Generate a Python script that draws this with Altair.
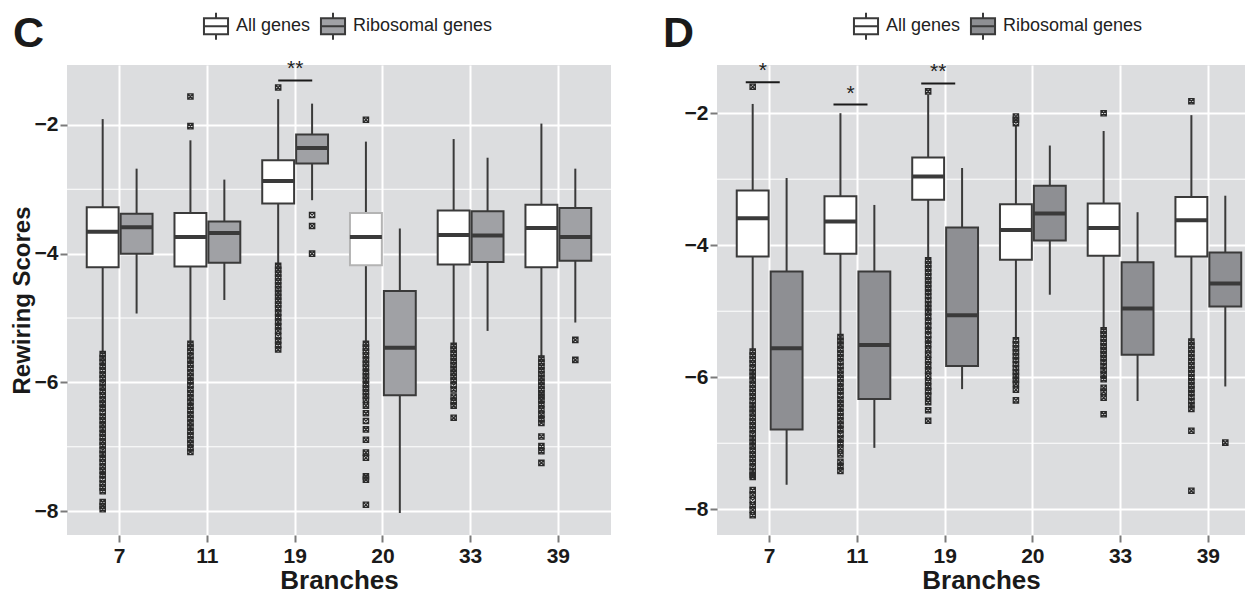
import altair as alt
import pandas as pd

branches = ["7", "11", "19", "20", "33", "39"]
groups = ["All genes", "Ribosomal genes"]

# ---- Panel C box statistics (lower whisker, Q1, median, Q3, upper whisker)
c_all_lo = [-5.55, -5.39, -4.18, -5.39, -5.42, -5.62]
c_all_q1 = [-4.21, -4.20, -3.22, -4.18, -4.17, -4.21]
c_all_med = [-3.66, -3.74, -2.87, -3.74, -3.71, -3.60]
c_all_q3 = [-3.28, -3.37, -2.55, -3.37, -3.33, -3.24]
c_all_hi = [-1.91, -2.24, -1.60, -2.26, -2.22, -1.98]

c_rib_lo = [-4.93, -4.72, -3.17, -8.03, -5.20, -5.07]
c_rib_q1 = [-4.00, -4.14, -2.60, -6.20, -4.13, -4.11]
c_rib_med = [-3.59, -3.68, -2.36, -5.46, -3.72, -3.74]
c_rib_q3 = [-3.38, -3.50, -2.15, -4.58, -3.34, -3.29]
c_rib_hi = [-2.68, -2.85, -1.67, -3.61, -2.51, -2.68]

# ---- Panel D box statistics
d_all_lo = [-5.60, -5.38, -4.22, -5.43, -5.28, -5.45]
d_all_q1 = [-4.17, -4.13, -3.31, -4.22, -4.16, -4.17]
d_all_med = [-3.59, -3.64, -2.96, -3.77, -3.74, -3.62]
d_all_q3 = [-3.17, -3.26, -2.67, -3.38, -3.37, -3.27]
d_all_hi = [-1.86, -2.00, -1.72, -2.19, -2.27, -2.03]

d_rib_lo = [-7.63, -7.07, -6.18, -4.75, -6.36, -6.14]
d_rib_q1 = [-6.79, -6.33, -5.83, -3.93, -5.66, -4.93]
d_rib_med = [-5.56, -5.51, -5.06, -3.52, -4.96, -4.58]
d_rib_q3 = [-4.40, -4.40, -3.73, -3.10, -4.26, -4.11]
d_rib_hi = [-2.98, -3.39, -2.83, -2.49, -3.50, -3.25]

# ---- Outliers (branch -> values)
c_all_out = {
    "7": [-5.56, -5.62, -5.68, -5.75, -5.81, -5.88, -5.94, -6.01, -6.07, -6.14, -6.2, -6.27,
          -6.33, -6.4, -6.46, -6.53, -6.59, -6.66, -6.72, -6.79, -6.85, -6.92, -6.98, -7.05,
          -7.11, -7.18, -7.24, -7.31, -7.37, -7.44, -7.5, -7.57, -7.63, -7.69, -7.86, -7.92, -7.97],
    "11": [-1.56, -2.02, -5.40, -5.46, -5.52, -5.59, -5.65, -5.72, -5.78, -5.85, -5.91, -5.98,
           -6.04, -6.11, -6.17, -6.24, -6.3, -6.37, -6.43, -6.5, -6.56, -6.63, -6.69, -6.76,
           -6.82, -6.89, -6.95, -7.02, -7.08],
    "19": [-1.42, -4.19, -4.25, -4.31, -4.37, -4.43, -4.49, -4.55, -4.61, -4.67, -4.73, -4.79,
           -4.85, -4.92, -4.99, -5.06, -5.13, -5.2, -5.28, -5.35, -5.42, -5.49],
    "20": [-1.92, -5.40, -5.46, -5.52, -5.58, -5.65, -5.71, -5.77, -5.84, -5.9, -5.96, -6.03,
           -6.09, -6.15, -6.21, -6.27, -6.36, -6.48, -6.6, -6.73, -6.89, -7.09, -7.17, -7.46,
           -7.51, -7.9],
    "33": [-5.43, -5.49, -5.55, -5.61, -5.67, -5.73, -5.79, -5.85, -5.91, -5.97, -6.04, -6.11,
           -6.22, -6.29, -6.36, -6.55],
    "39": [-5.63, -5.69, -5.75, -5.81, -5.87, -5.93, -5.99, -6.05, -6.11, -6.17, -6.22, -6.27,
           -6.34, -6.42, -6.5, -6.57, -6.63, -6.84, -6.99, -7.07, -7.25],
}
c_rib_out = {"19": [-3.40, -3.57, -4.00], "39": [-5.34, -5.65]}

d_all_out = {
    "7": [-1.60, -5.61, -5.67, -5.73, -5.79, -5.86, -5.92, -5.98, -6.04, -6.11, -6.17, -6.23,
          -6.29, -6.36, -6.42, -6.48, -6.54, -6.61, -6.67, -6.73, -6.79, -6.86, -6.92, -6.98,
          -7.04, -7.11, -7.17, -7.23, -7.29, -7.36, -7.42, -7.48, -7.51, -7.71, -7.78, -7.86,
          -7.94, -8.01, -8.09],
    "11": [-5.39, -5.45, -5.51, -5.58, -5.64, -5.7, -5.77, -5.83, -5.89, -5.96, -6.02, -6.08,
           -6.15, -6.21, -6.27, -6.34, -6.4, -6.46, -6.53, -6.59, -6.66, -6.72, -6.79, -6.86,
           -6.93, -7.0, -7.08, -7.17, -7.28, -7.35, -7.42],
    "19": [-1.67, -4.23, -4.29, -4.35, -4.41, -4.47, -4.53, -4.59, -4.65, -4.71, -4.77, -4.83,
           -4.89, -4.95, -5.01, -5.08, -5.15, -5.22, -5.29, -5.36, -5.43, -5.5, -5.58, -5.66,
           -5.74, -5.82, -5.9, -5.98, -6.06, -6.14, -6.21, -6.28, -6.38, -6.5, -6.66],
    "20": [-2.05, -2.10, -2.15, -5.44, -5.5, -5.56, -5.62, -5.68, -5.74, -5.8, -5.86, -5.92,
           -5.98, -6.04, -6.1, -6.19, -6.35],
    "33": [-2.00, -5.29, -5.35, -5.41, -5.47, -5.53, -5.59, -5.65, -5.71, -5.77, -5.83, -5.89,
           -5.96, -6.03, -6.16, -6.22, -6.31, -6.56],
    "39": [-1.82, -5.46, -5.52, -5.58, -5.64, -5.7, -5.76, -5.82, -5.88, -5.94, -6.0, -6.06,
           -6.12, -6.18, -6.24, -6.3, -6.36, -6.42, -6.48, -6.81, -7.72],
}
d_rib_out = {"39": [-6.99]}

# ---- Significance annotations
c_sig_branch = ["19"]
c_sig_line = [-1.31]
c_sig_label = ["**"]
d_sig_branch = ["7", "11", "19"]
d_sig_line = [-1.53, -1.87, -1.55]
d_sig_label = ["*", "*", "**"]

y_ticks = [-8, -6, -4, -2]
y_minor = [-7, -5, -3]

FONT = "Liberation Sans"
DARK = "#3a3a3a"
BOX_PATH = "M-0.86,-0.57H0.86V0.57H-0.86Z M-0.86,0H0.86 M0,-0.57V-0.97 M0,0.57V0.97"
OUT_PATH = "M-1,-1H1V1H-1Z M-1,-1L1,1 M1,-1L-1,1"


def stats_frame(all_stats, rib_stats):
    rows = []
    for grp, st in zip(groups, [all_stats, rib_stats]):
        lo, q1, med, q3, hi = st
        for i, b in enumerate(branches):
            rows.append(dict(branch=b, group=grp, lo=lo[i], q1=q1[i], med=med[i], q3=q3[i], hi=hi[i]))
    return pd.DataFrame(rows)


def out_frame(all_out, rib_out):
    rows = []
    for grp, od in zip(groups, [all_out, rib_out]):
        for b, vals in od.items():
            for v in vals:
                rows.append(dict(branch=b, group=grp, value=v))
    return pd.DataFrame(rows)


def panel(letter, stats, outl, sig_b, sig_y, sig_lab, domain, rib_color, ytitle, sig_shift,
          light_box, width, pad_outer, align):
    xenc = alt.X("branch:N", sort=branches,
                 scale=alt.Scale(paddingInner=0.25, paddingOuter=pad_outer, align=align),
                 axis=alt.Axis(title="Branches", grid=True, gridColor="white", gridWidth=2,
                               bandPosition=0.5, labelAngle=0, labelPadding=3, titlePadding=1,
                               titleFontSize=26))
    xoff = alt.XOffset("group:N", sort=groups, scale=alt.Scale(paddingInner=0.06, paddingOuter=0))
    yscale = alt.Scale(domain=domain, nice=False, zero=False)
    yax = alt.Axis(values=y_ticks, title=ytitle, grid=True, gridColor="white", gridWidth=2,
                   format="d", labelPadding=2, titlePadding=0, titleFontSize=24)

    minor = alt.Chart(pd.DataFrame({"v": y_minor})).mark_rule(color="white", strokeWidth=1).encode(
        y=alt.Y("v:Q", scale=yscale, axis=yax))

    whisk = alt.Chart(stats).mark_rule(color=DARK, strokeWidth=2).encode(
        x=xenc, xOffset=xoff, y=alt.Y("lo:Q", scale=yscale), y2="hi:Q")

    stroke_cond = alt.value(DARK)
    if light_box:
        stroke_cond = alt.condition(
            "datum.branch == '20' && datum.group == 'All genes'", alt.value("#b4b4b4"), alt.value(DARK))

    box = alt.Chart(stats).mark_bar(strokeWidth=2, opacity=1).encode(
        x=xenc, xOffset=xoff, y=alt.Y("q1:Q", scale=yscale), y2="q3:Q",
        stroke=stroke_cond,
        fill=alt.Fill("group:N", sort=groups,
                      scale=alt.Scale(domain=groups, range=["#ffffff", rib_color]),
                      legend=alt.Legend(orient="none", legendX=134, legendY=-54, direction="horizontal",
                                        title=None, symbolType=BOX_PATH, symbolSize=784,
                                        symbolStrokeColor=DARK, symbolStrokeWidth=2,
                                        labelFont=FONT, labelFontSize=18, labelColor="#222",
                                        labelOffset=5, columnPadding=5)))

    med = alt.Chart(stats).mark_tick(color=DARK, thickness=4, size=32, opacity=1).encode(
        x=xenc, xOffset=xoff, y=alt.Y("med:Q", scale=yscale))

    pts = alt.Chart(outl).mark_point(shape=OUT_PATH, size=28, filled=False, stroke="#2a2a2a",
                                     strokeWidth=1.3, opacity=1).encode(
        x=xenc, xOffset=xoff, y=alt.Y("value:Q", scale=yscale))

    sig = pd.DataFrame({"branch": sig_b, "y": sig_y, "label": sig_lab})
    sig_line = alt.Chart(sig).mark_tick(color="#1a1a1a", thickness=2, size=34, opacity=1).encode(
        x=xenc, xOffset=alt.value(33 + sig_shift), y=alt.Y("y:Q", scale=yscale))
    sig_text = alt.Chart(sig).mark_text(font=FONT, fontSize=21, color="#222", baseline="bottom",
                                        dy=-1).encode(
        x=xenc, xOffset=alt.value(33 + sig_shift), y=alt.Y("y:Q", scale=yscale), text="label:N")

    lab = alt.Chart(pd.DataFrame({"t": [letter]})).mark_text(
        font=FONT, fontSize=43, fontWeight="bold", color="#1a1a1a", align="left",
        baseline="alphabetic").encode(x=alt.value(-54), y=alt.value(-18), text="t:N")

    return alt.layer(minor, whisk, box, med, pts, sig_line, sig_text, lab).properties(
        width=width, height=470)


c_stats = stats_frame([c_all_lo, c_all_q1, c_all_med, c_all_q3, c_all_hi],
                      [c_rib_lo, c_rib_q1, c_rib_med, c_rib_q3, c_rib_hi])
d_stats = stats_frame([d_all_lo, d_all_q1, d_all_med, d_all_q3, d_all_hi],
                      [d_rib_lo, d_rib_q1, d_rib_med, d_rib_q3, d_rib_hi])

left = panel("C", c_stats, out_frame(c_all_out, c_rib_out), c_sig_branch, c_sig_line, c_sig_label,
             [-8.37, -1.07], "#a0a1a5", "Rewiring Scores", 0, True, 544, 0.225, 0.5)
right = panel("D", d_stats, out_frame(d_all_out, d_rib_out), d_sig_branch, d_sig_line, d_sig_label,
              [-8.39, -1.27], "#8e8f93", None, -7, False, 528, 0.134, 0.84)

chart = alt.hconcat(left, right, spacing=51).resolve_scale(fill="independent").resolve_legend(
    fill="independent").properties(padding={"left": 2, "top": 3, "right": 0, "bottom": 0}).configure_view(
    fill="#dcdddf", stroke=None).configure_axis(
    domain=False, tickColor="#7a7a7a", tickWidth=2, tickSize=7,
    labelFont=FONT, labelFontSize=21, labelFontWeight="bold", labelColor="#1a1a1a",
    titleFont=FONT, titleFontSize=23, titleFontWeight="bold", titleColor="#1a1a1a")

chart.save("out.html", embed_options={"renderer": "svg", "actions": False})
